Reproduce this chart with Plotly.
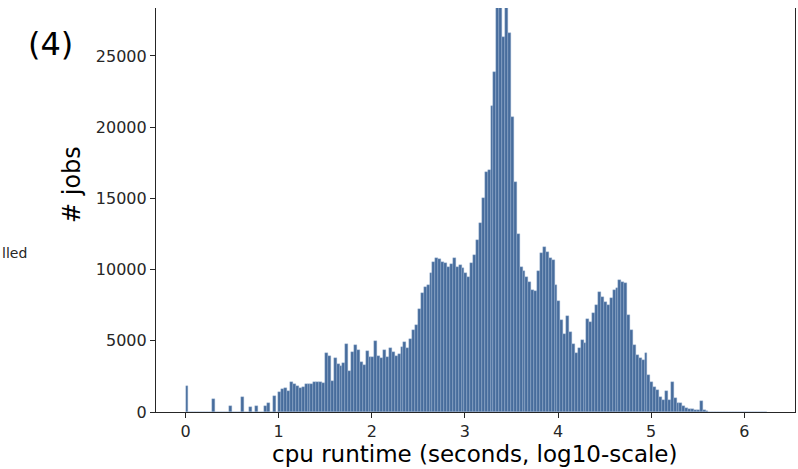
import plotly.graph_objects as go

# Histogram of cpu runtime (log10 seconds): 200 bins from 0 to 6.24
bin_start = 0.0
bin_width = 0.0312
counts = [
    1800, 0, 0, 0, 0, 0, 0, 0, 0, 900,
    0, 0, 0, 0, 0, 420, 0, 0, 0, 1050,
    0, 0, 350, 0, 420, 0, 0, 420, 630, 0,
    1150, 0, 1400, 1650, 1680, 1470, 2130, 1960, 1800, 1700,
    1750, 1950, 1950, 2000, 2100, 2130, 2080, 2050, 4150, 3950,
    2200, 3800, 3400, 3200, 3460, 4770, 2900, 4230, 4700, 4350,
    3530, 3300, 4250, 3880, 3860, 5000, 3900, 3770, 4350, 3860,
    4470, 4230, 3930, 4050, 4580, 4930, 4470, 5150, 5760, 6100,
    7200, 8330, 8800, 8900, 9730, 10500, 10780, 10710, 10550, 10430,
    10200, 10380, 10780, 10200, 10320, 10080, 9750, 9500, 10430, 11000,
    12070, 13300, 15000, 16870, 17000, 21500, 23890, 30000, 28500, 26350,
    31000, 26600, 20730, 16170, 12500, 10200, 9900, 9500, 9150, 8560,
    8500, 9900, 11140, 11580, 11250, 10780, 10670, 8900, 7800, 6460,
    5450, 6740, 5640, 4760, 4120, 4470, 5050, 4820, 6500, 6300,
    6930, 7510, 8450, 8100, 7740, 7510, 7980, 8560, 8680, 9270,
    9100, 9030, 6800, 5760, 4700, 4000, 3770, 3650, 4120, 2600,
    2130, 1780, 1550, 1080, 840, 1470, 840, 2130, 960, 610,
    650, 450, 300, 220, 190, 150, 140, 800, 150, 40,
    30, 25, 22, 20, 18, 15, 14, 12, 10, 9,
    8, 7, 6, 5, 5, 4, 3, 3, 2, 2,
]
x_ticks = [0, 1, 2, 3, 4, 5, 6]
y_ticks = [0, 5000, 10000, 15000, 20000, 25000]
panel_label = "(4)"
x_title = "cpu runtime (seconds, log10-scale)"
y_title = "# jobs"
side_text = "lled"

centers = [bin_start + (i + 0.5) * bin_width for i in range(len(counts))]

W, H = 798, 469
L, R, T, B = 156, 3, 8, 57
PW, PH = W - L - R, H - T - B

fig = go.Figure()
fig.add_trace(go.Bar(
    x=centers, y=counts, width=bin_width,
    marker=dict(color="#476c9c", line=dict(color="rgba(160,185,215,1)", width=0.4)),
    hoverinfo="x+y",
))

font = "DejaVu Sans, sans-serif"
fig.update_layout(
    width=W, height=H,
    margin=dict(l=L, r=R, t=T, b=B, pad=0),
    paper_bgcolor="white", plot_bgcolor="white",
    bargap=0, showlegend=False,
    font=dict(family=font, color="#262626", size=16),
)
fig.update_xaxes(
    range=[-0.317, 6.545], tickvals=x_ticks, ticktext=[str(t) for t in x_ticks],
    showgrid=False, zeroline=False, showline=True, linecolor="#262626", linewidth=1.2,
    ticks="outside", ticklen=5, tickwidth=1.2, tickcolor="#262626",
    tickfont=dict(size=16, family=font, color="#262626"),
)
fig.update_yaxes(
    range=[0, 28370], tickvals=y_ticks, ticktext=[str(t) for t in y_ticks],
    showgrid=False, zeroline=False, showline=True, mirror=True, linecolor="#262626", linewidth=1.2,
    ticks="outside", ticklen=5, tickwidth=1.2, tickcolor="#262626",
    tickfont=dict(size=16, family=font, color="#262626"),
)

def px_x(p):
    return (p - L) / PW

def px_y(p):
    return (H - B - p) / PH

anns = [
    dict(text=panel_label, x=px_x(50), y=px_y(44), font=dict(size=32, family=font, color="black")),
    dict(text=y_title, x=px_x(72), y=px_y(185), textangle=-90, font=dict(size=24, family=font, color="black")),
    dict(text=x_title, x=px_x(475), y=px_y(454), font=dict(size=23, family=font, color="black")),
    dict(text=side_text, x=px_x(0), y=px_y(253), xanchor="left", font=dict(size=14, family=font, color="#262626")),
]
for a in anns:
    a.setdefault("xanchor", "center")
    fig.add_annotation(xref="paper", yref="paper", yanchor="middle", showarrow=False, **a)

fig.write_html("out.html")
